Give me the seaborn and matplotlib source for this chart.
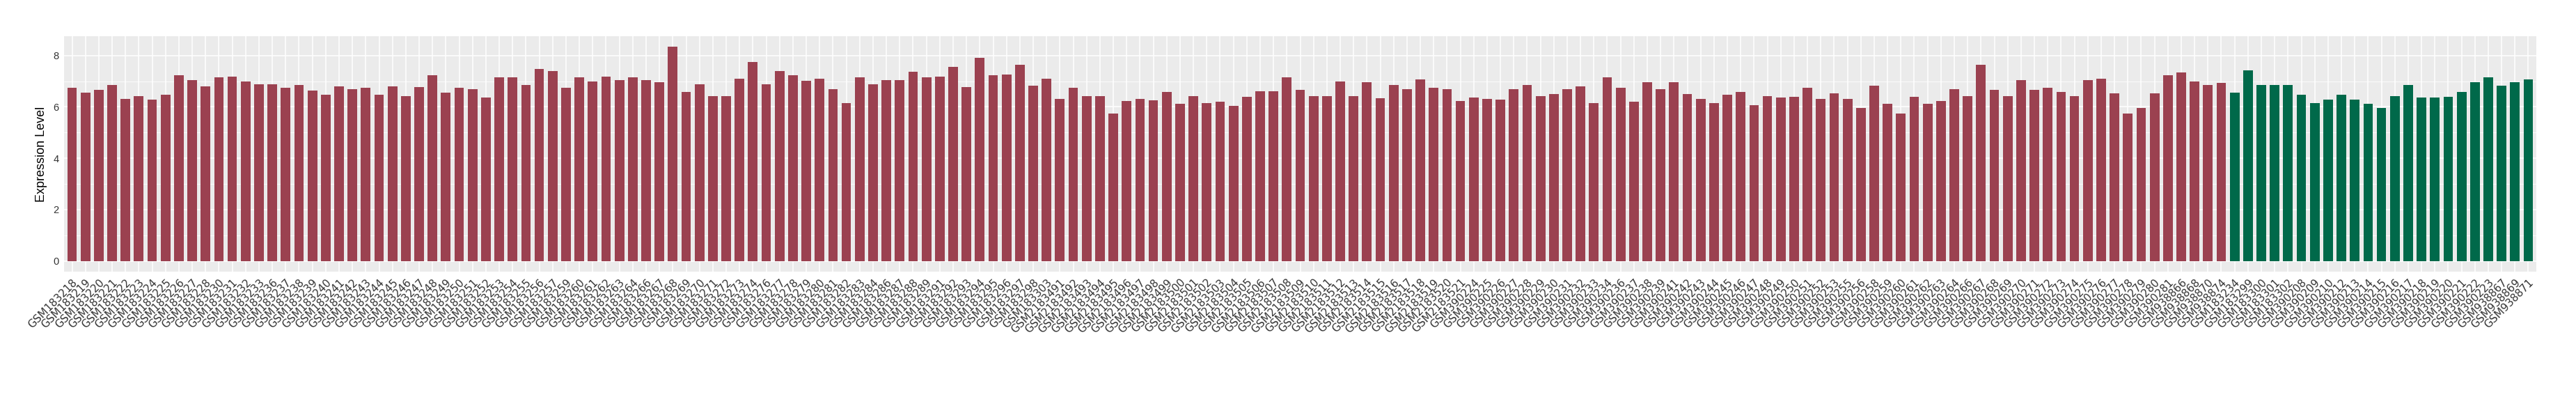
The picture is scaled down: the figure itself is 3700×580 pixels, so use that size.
import matplotlib
matplotlib.use("Agg")
import matplotlib.pyplot as plt
import seaborn as sns
import pandas as pd
from matplotlib.ticker import MultipleLocator

# ---- data ----
red_samples = [
    "GSM183218", "GSM183219", "GSM183220", "GSM183221", "GSM183222", "GSM183223", "GSM183224",
    "GSM183225", "GSM183226", "GSM183227", "GSM183228", "GSM183230", "GSM183231", "GSM183232",
    "GSM183233", "GSM183236", "GSM183237", "GSM183238", "GSM183239", "GSM183240", "GSM183241",
    "GSM183242", "GSM183243", "GSM183244", "GSM183245", "GSM183246", "GSM183247", "GSM183248",
    "GSM183249", "GSM183250", "GSM183251", "GSM183252", "GSM183253", "GSM183254", "GSM183255",
    "GSM183256", "GSM183257", "GSM183259", "GSM183260", "GSM183261", "GSM183262", "GSM183263",
    "GSM183264", "GSM183266", "GSM183267", "GSM183268", "GSM183269", "GSM183270", "GSM183271",
    "GSM183272", "GSM183273", "GSM183274", "GSM183276", "GSM183277", "GSM183278", "GSM183279",
    "GSM183280", "GSM183281", "GSM183282", "GSM183283", "GSM183284", "GSM183286", "GSM183287",
    "GSM183288", "GSM183289", "GSM183291", "GSM183292", "GSM183293", "GSM183294", "GSM183295",
    "GSM183296", "GSM183297", "GSM183298", "GSM183303",
    "GSM2183491", "GSM2183492", "GSM2183493", "GSM2183494", "GSM2183495", "GSM2183496",
    "GSM2183497", "GSM2183498", "GSM2183499", "GSM2183500", "GSM2183501", "GSM2183502",
    "GSM2183503", "GSM2183504", "GSM2183505", "GSM2183506", "GSM2183507", "GSM2183508",
    "GSM2183509", "GSM2183510", "GSM2183511", "GSM2183512", "GSM2183513", "GSM2183514",
    "GSM2183515", "GSM2183516", "GSM2183517", "GSM2183518", "GSM2183519", "GSM2183520",
    "GSM2183521",
    "GSM390224", "GSM390225", "GSM390226", "GSM390227", "GSM390228", "GSM390229", "GSM390230",
    "GSM390231", "GSM390232", "GSM390233", "GSM390234", "GSM390236", "GSM390237", "GSM390238",
    "GSM390239", "GSM390241", "GSM390242", "GSM390243", "GSM390244", "GSM390245", "GSM390246",
    "GSM390247", "GSM390248", "GSM390249", "GSM390250", "GSM390251", "GSM390252", "GSM390253",
    "GSM390255", "GSM390256", "GSM390258", "GSM390259", "GSM390260", "GSM390261", "GSM390262",
    "GSM390263", "GSM390264", "GSM390266", "GSM390267", "GSM390268", "GSM390269", "GSM390270",
    "GSM390271", "GSM390272", "GSM390273", "GSM390274", "GSM390275", "GSM390276", "GSM390277",
    "GSM390278", "GSM390279", "GSM390280", "GSM390281",
    "GSM938866", "GSM938868", "GSM938870", "GSM938874",
]
red_values = [
    6.73, 6.56, 6.65, 6.85, 6.32, 6.41, 6.29,
    6.46, 7.22, 7.05, 6.80, 7.16, 7.19, 6.99,
    6.89, 6.87, 6.73, 6.85, 6.63, 6.48, 6.80,
    6.70, 6.73, 6.46, 6.80, 6.43, 6.77, 7.22,
    6.56, 6.73, 6.70, 6.36, 7.14, 7.16, 6.85,
    7.48, 7.39, 6.75, 7.16, 6.99, 7.19, 7.05,
    7.16, 7.05, 6.97, 8.33, 6.58, 6.87, 6.41,
    6.41, 7.09, 7.75, 6.87, 7.39, 7.23, 7.02,
    7.09, 6.70, 6.14, 7.16, 6.87, 7.05, 7.05,
    7.36, 7.14, 7.19, 7.55, 6.77, 7.92, 7.23,
    7.26, 7.63, 6.82, 7.09,
    6.32, 6.75, 6.43, 6.43, 5.73, 6.23,
    6.32, 6.26, 6.58, 6.12, 6.41, 6.16,
    6.19, 6.05, 6.39, 6.60, 6.60, 7.14,
    6.65, 6.41, 6.43, 6.99, 6.41, 6.95,
    6.33, 6.85, 6.68, 7.06, 6.73, 6.70,
    6.22,
    6.36, 6.32, 6.29, 6.68, 6.85, 6.43, 6.50,
    6.68, 6.80, 6.16, 7.14, 6.75, 6.19, 6.97,
    6.68, 6.95, 6.50, 6.32, 6.14, 6.48, 6.58,
    6.07, 6.43, 6.36, 6.39, 6.73, 6.32, 6.53,
    6.32, 5.95, 6.82, 6.12, 5.75, 6.39, 6.12,
    6.23, 6.70, 6.43, 7.65, 6.65, 6.41, 7.05,
    6.65, 6.75, 6.58, 6.41, 7.05, 7.09, 6.53,
    5.75, 5.97, 6.53, 7.23,
    7.33, 6.99, 6.85, 6.92,
]
green_samples = [
    "GSM183234", "GSM183299", "GSM183300", "GSM183301", "GSM183302",
    "GSM390208", "GSM390209", "GSM390210", "GSM390212", "GSM390213", "GSM390214",
    "GSM390215", "GSM390216", "GSM390217", "GSM390218", "GSM390219", "GSM390220",
    "GSM390221", "GSM390222", "GSM390223",
    "GSM938867", "GSM938869", "GSM938871",
]
green_values = [
    6.56, 7.41, 6.85, 6.85, 6.85,
    6.46, 6.16, 6.29, 6.46, 6.29, 6.12,
    5.95, 6.43, 6.85, 6.36, 6.36, 6.39,
    6.58, 6.97, 7.14,
    6.82, 6.97, 7.06,
]
group_names = ["group1", "group2"]
group_colors = ["#9B4150", "#00694A"]

df = pd.DataFrame({
    "sample": red_samples + green_samples,
    "value": red_values + green_values,
    "group": [group_names[0]] * len(red_samples) + [group_names[1]] * len(green_samples),
})
order = list(df["sample"])
n = len(order)

sns.set_theme(style="darkgrid")
plt.rcParams["font.family"] = ["DejaVu Sans"]

fig = plt.figure(figsize=(37, 5.8), dpi=100)
ax = fig.add_axes([92 / 3700, 1 - 390 / 580, (3643 - 92) / 3700, (390 - 52) / 580])

sns.barplot(data=df, x="sample", y="value", hue="group", order=order,
            hue_order=group_names, palette=dict(zip(group_names, group_colors)),
            dodge=False, width=0.72, saturation=1, legend=False, ax=ax,
            edgecolor="none", linewidth=0)

ax.set_facecolor("#EBEBEB")
ax.set_xlim(-0.6, n - 0.4)
ax.set_ylim(-0.4165, 8.75)
ax.yaxis.set_major_locator(MultipleLocator(2))
ax.yaxis.set_minor_locator(MultipleLocator(1))
ax.grid(which="major", axis="both", color="white", linewidth=1.1)
ax.grid(which="minor", axis="y", color="white", linewidth=0.55)
ax.set_axisbelow(True)
for s in ax.spines.values():
    s.set_visible(False)

ax.set_xlabel("")
ax.set_ylabel("Expression Level", fontsize=13, family=["Liberation Sans", "DejaVu Sans"],
              color="black", labelpad=6)
ax.tick_params(axis="both", which="major", length=3.5, width=0.8, color="#333333",
               direction="out", pad=2)
ax.tick_params(axis="y", which="minor", length=0)
ax.tick_params(axis="y", labelsize=10.5, labelcolor="#333333")
ax.set_xticks(range(n))
ax.set_xticklabels(order, rotation=45, ha="right", va="top", rotation_mode="anchor",
                   fontsize=11, color="#333333")
for lbl in ax.get_yticklabels():
    lbl.set_family(["Liberation Sans", "DejaVu Sans"])

fig.savefig("out.png", dpi=100)
